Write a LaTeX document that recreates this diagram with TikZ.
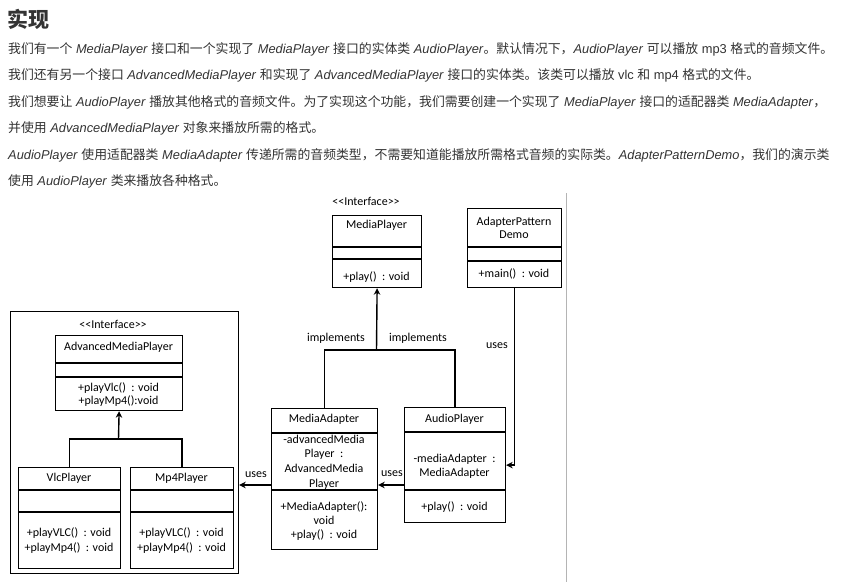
\documentclass[tikz,border=0pt]{standalone}
\usepackage{fontspec}
\setmainfont{Liberation Sans}
\newfontfamily\cjk{Noto Sans CJK SC}
\newfontfamily\uml{Carlito}
\usetikzlibrary{arrows.meta}
\newcommand\zh[1]{{\cjk #1}}
\definecolor{txtgray}{HTML}{333333}
\definecolor{rulegray}{HTML}{B4B4B4}
\begin{document}
\begin{tikzpicture}[x=1pt,y=-1pt,
  para/.style={anchor=base west, inner sep=0pt, text=txtgray, font=\fontsize{12.85}{15}\selectfont},
  umlbox/.style={draw, line width=1.2pt, anchor=north west, inner sep=0pt},
  divider/.style={line width=1.2pt},
  umltxt/.style={inner sep=0pt, yshift=-1.2pt, text height=8pt, text depth=2.5pt, font=\uml\fontsize{12}{14}\selectfont},
  conn/.style={line width=1.4pt},
  arr/.style={conn, -{Stealth[length=6.5pt,width=6.5pt]}}
]
\useasboundingbox (0,0) rectangle (850,582);
\fill[white] (0,0) rectangle (850,582);

% ---- heading and description ----
\node[anchor=base west, inner sep=0pt, text=txtgray, font=\cjk\bfseries\fontsize{21}{24}\selectfont] (title) at (7,27) {实现};
\node[para] (p1) at (8,53) {\zh{我们有一个} \textit{MediaPlayer} \zh{接口和一个实现了} \textit{MediaPlayer} \zh{接口的实体类} \textit{AudioPlayer}\zh{。默认情况下，}\textit{AudioPlayer} \zh{可以播放} mp3 \zh{格式的音频文件。}};
\node[para] (p2) at (8,79) {\zh{我们还有另一个接口} \textit{AdvancedMediaPlayer} \zh{和实现了} \textit{AdvancedMediaPlayer} \zh{接口的实体类。该类可以播放} vlc \zh{和} mp4 \zh{格式的文件。}};
\node[para] (p3) at (8,106) {\zh{我们想要让} \textit{AudioPlayer} \zh{播放其他格式的音频文件。为了实现这个功能，我们需要创建一个实现了} \textit{MediaPlayer} \zh{接口的适配器类} \textit{MediaAdapter}\zh{，}};
\node[para] (p4) at (8,132) {\zh{并使用} \textit{AdvancedMediaPlayer} \zh{对象来播放所需的格式。}};
\node[para] (p5) at (8,159) {\textit{AudioPlayer} \zh{使用适配器类} \textit{MediaAdapter} \zh{传递所需的音频类型，不需要知道能播放所需格式音频的实际类。}\textit{AdapterPatternDemo}\zh{，我们的演示类}};
\node[para] (p6) at (8,185) {\zh{使用} \textit{AudioPlayer} \zh{类来播放各种格式。}};

% separator on the right
\draw[rulegray, line width=1pt] (566,193) -- (566,582);

% ---- MediaPlayer interface ----
\node[umltxt] (mp-st) at (366,202) {<{}<Interface>{}>};
\node[umlbox, minimum width=89pt, minimum height=72pt] (mp) at (332,215) {};
\draw[divider] (332,247) -- ++(89,0);
\draw[divider] (332,259) -- ++(89,0);
\node[umltxt] (mp-name) at (376.5,225) {MediaPlayer};
\node[umltxt] (mp-op) at (376.5,277) {+play() \ : void};

% ---- AdapterPatternDemo ----
\node[umlbox, minimum width=94pt, minimum height=79pt] (demo) at (467,208) {};
\draw[divider] (467,247) -- ++(94,0);
\draw[divider] (467,261) -- ++(94,0);
\node[umltxt] (demo-n1) at (514,222) {AdapterPattern};
\node[umltxt] (demo-n2) at (514,235) {Demo};
\node[umltxt] (demo-op) at (514,274) {+main() \ : void};

% ---- AdvancedMediaPlayer group ----
\node[umlbox, minimum width=228pt, minimum height=262pt] (grp) at (10,311) {};
\node[umltxt] (amp-st) at (113,325) {<{}<Interface>{}>};
\node[umlbox, minimum width=127pt, minimum height=75pt] (amp) at (55,335) {};
\draw[divider] (55,363) -- ++(127,0);
\draw[divider] (55,377) -- ++(127,0);
\node[umltxt] (amp-name) at (118.5,347) {AdvancedMediaPlayer};
\node[umltxt] (amp-op1) at (118.5,388) {+playVlc() \ : void};
\node[umltxt] (amp-op2) at (118.5,401) {+playMp4():void};

\node[umlbox, minimum width=102pt, minimum height=101pt] (vlc) at (18,467) {};
\draw[divider] (18,490) -- ++(102,0);
\draw[divider] (18,512) -- ++(102,0);
\node[umltxt] (vlc-name) at (69,478) {VlcPlayer};
\node[umltxt] (vlc-op1) at (69,533) {+playVLC() \ : void};
\node[umltxt] (vlc-op2) at (69,548) {+playMp4() \ : void};

\node[umlbox, minimum width=103pt, minimum height=101pt] (mp4) at (130,467) {};
\draw[divider] (130,490) -- ++(103,0);
\draw[divider] (130,512) -- ++(103,0);
\node[umltxt] (mp4-name) at (181.5,478) {Mp4Player};
\node[umltxt] (mp4-op1) at (181.5,533) {+playVLC() \ : void};
\node[umltxt] (mp4-op2) at (181.5,548) {+playMp4() \ : void};

% ---- MediaAdapter ----
\node[umlbox, minimum width=106pt, minimum height=141pt] (ma) at (271,408) {};
\draw[divider] (271,433) -- ++(106,0);
\draw[divider] (271,490) -- ++(106,0);
\node[umltxt] (ma-name) at (324,419) {MediaAdapter};
\node[umltxt] (ma-a1) at (324,440) {-advancedMedia};
\node[umltxt] (ma-a2) at (324,454) {Player \ :};
\node[umltxt] (ma-a3) at (324,469) {AdvancedMedia};
\node[umltxt] (ma-a4) at (324,484) {Player};
\node[umltxt] (ma-o1) at (324,507) {+MediaAdapter():};
\node[umltxt] (ma-o2) at (324,521) {void};
\node[umltxt] (ma-o3) at (324,535) {+play() \ : void};

% ---- AudioPlayer ----
\node[umlbox, minimum width=101pt, minimum height=115pt] (ap) at (404,407) {};
\draw[divider] (404,432) -- ++(101,0);
\draw[divider] (404,490) -- ++(101,0);
\node[umltxt] (ap-name) at (454.5,419) {AudioPlayer};
\node[umltxt] (ap-a1) at (454.5,459) {-mediaAdapter \ :};
\node[umltxt] (ap-a2) at (454.5,473) {MediaAdapter};
\node[umltxt] (ap-o1) at (454.5,507) {+play() \ : void};

% ---- connectors ----
\coordinate (impl) at (376.5,350);
\draw[conn] (ma.north) |- (impl) -| (ap.north);
\draw[arr] (impl) -- (mp.south);
\node[umltxt] (impl-l) at (336,338) {implements};
\node[umltxt] (impl-r) at (418,338) {implements};

\coordinate (ext) at (118.5,439);
\draw[conn] (vlc.north) |- (ext) -| (mp4.north);
\draw[arr] (ext) -- (amp.south);

\draw[arr] (demo.south) |- (ap.east);
\node[umltxt] (uses1) at (497,345) {uses};

\coordinate (userow) at (0,485);
\draw[arr] (ap.west |- userow) -- (ma.east |- userow);
\node[umltxt] (uses2) at (392,473) {uses};
\draw[arr] (ma.west |- userow) -- (grp.east |- userow);
\node[umltxt] (uses3) at (256,474) {uses};
\end{tikzpicture}
\end{document}
